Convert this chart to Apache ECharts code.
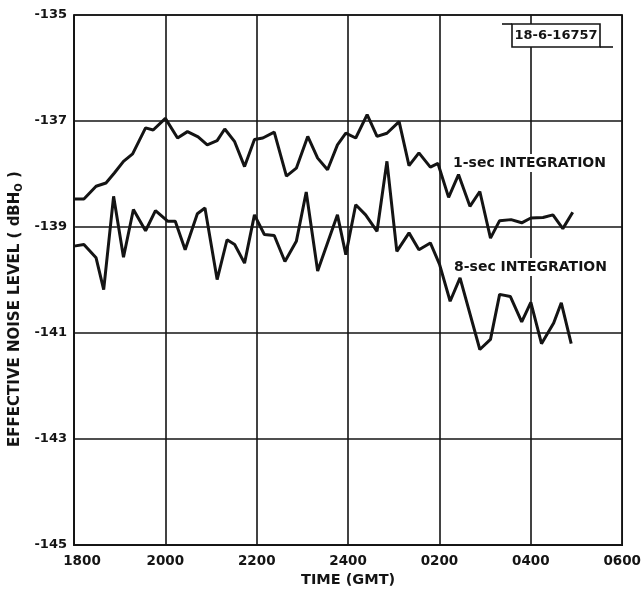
<!DOCTYPE html>
<html>
<head>
<meta charset="utf-8">
<script src="https://cdn.jsdelivr.net/npm/echarts@6/dist/echarts.min.js"></script>
<style>
html,body{margin:0;padding:0;background:#fff;}
#c{width:644px;height:593px;}
</style>
</head>
<body>
<div id="c"></div>
<script>
// Time in minutes after 1800 GMT
const oneSecTime = [0,13,29,42,53,65,77,94,104,120,136,149,163,175,188,198,211,224,237,248,263,279,292,307,320,333,346,357,370,385,398,411,427,440,453,468,478,492,505,520,533,547,559,574,588,600,616,629,642,655];
const oneSecLevel = [-138.47,-138.47,-138.23,-138.17,-137.98,-137.76,-137.62,-137.13,-137.17,-136.95,-137.32,-137.20,-137.30,-137.45,-137.37,-137.15,-137.39,-137.86,-137.35,-137.32,-137.21,-138.04,-137.89,-137.29,-137.70,-137.92,-137.45,-137.23,-137.32,-136.88,-137.29,-137.23,-137.01,-137.84,-137.60,-137.87,-137.80,-138.44,-138.01,-138.61,-138.33,-139.21,-138.88,-138.86,-138.92,-138.83,-138.82,-138.77,-139.03,-138.72];
const eightSecTime = [0,13,29,39,52,65,78,94,107,123,133,146,162,172,188,201,211,224,237,250,263,277,292,305,320,346,357,370,383,398,411,424,440,453,468,480,494,507,533,547,559,573,588,600,614,630,640,653];
const eightSecLevel = [-139.36,-139.33,-139.58,-140.18,-138.42,-139.57,-138.67,-139.07,-138.69,-138.89,-138.89,-139.43,-138.75,-138.64,-139.99,-139.24,-139.33,-139.68,-138.77,-139.14,-139.16,-139.65,-139.27,-138.34,-139.83,-138.77,-139.52,-138.58,-138.77,-139.08,-137.76,-139.46,-139.11,-139.43,-139.30,-139.70,-140.40,-139.96,-141.31,-141.12,-140.27,-140.31,-140.79,-140.42,-141.20,-140.81,-140.43,-141.20];
const xTickLabels = ['1800','2000','2200','2400','0200','0400','0600'];
const yTickLabels = ['-145','-143','-141','-139','-137','-135'];

const font = 'DejaVu Sans';
const ink = '#141414';
const chart = echarts.init(document.getElementById('c'), null, {renderer:'canvas'});
const zip = (t, v) => t.map((x, i) => [x, v[i]]);

chart.setOption({
  backgroundColor: '#ffffff',
  animation: false,
  grid: {left: 74, right: 19, top: 15, bottom: 47, show: true, borderColor: ink, borderWidth: 1.6},
  xAxis: {
    type: 'value', min: 0, max: 720, interval: 120,
    name: 'TIME (GMT)', nameLocation: 'middle', nameGap: 27,
    nameTextStyle: {fontFamily: font, fontSize: 14.5, fontWeight: 'bold', color: ink},
    axisLine: {show: true, lineStyle: {color: ink, width: 1.6}},
    axisTick: {show: false},
    axisLabel: {
      fontFamily: font, fontSize: 13.5, fontWeight: 'bold', color: ink, margin: 9,
      formatter: v => { const i = Math.round(v / 120); return i === 0 ? '{a|' + xTickLabels[i] + '}' : xTickLabels[i]; },
      rich: {a: {fontFamily: font, fontSize: 13.5, fontWeight: 'bold', color: ink, padding: [0, 0, 0, 16]}}
    },
    splitLine: {show: true, lineStyle: {color: ink, width: 1.6}}
  },
  yAxis: {
    type: 'value', min: -145, max: -135, interval: 2,
    axisLine: {show: true, lineStyle: {color: ink, width: 1.6}},
    axisTick: {show: false},
    axisLabel: {
      fontFamily: font, fontSize: 13, fontWeight: 'bold', color: ink, margin: 7,
      formatter: v => yTickLabels[Math.round((v + 145) / 2)]
    },
    splitLine: {show: true, lineStyle: {color: ink, width: 1.6}}
  },
  series: [
    {type: 'line', name: '1-sec', data: zip(oneSecTime, oneSecLevel), showSymbol: false, symbol: 'none',
     lineStyle: {color: ink, width: 3}, z: 3},
    {type: 'line', name: '8-sec', data: zip(eightSecTime, eightSecLevel), showSymbol: false, symbol: 'none',
     lineStyle: {color: ink, width: 3}, z: 3}
  ],
  graphic: [
    {type: 'text', x: 15, y: 309, rotation: Math.PI / 2,
     style: {text: 'EFFECTIVE NOISE LEVEL ( dBH{s|O} )', fontFamily: font, fontSize: 15, fontWeight: 'bold', fill: ink,
             align: 'center', verticalAlign: 'middle',
             rich: {s: {fontFamily: font, fontSize: 10, fontWeight: 'bold', fill: ink, padding: [9, 0, 0, 0]}}}},
    {type: 'text', x: 451, y: 163,
     style: {text: '1-sec INTEGRATION', fontFamily: font, fontSize: 14, fontWeight: 'bold', fill: ink,
             align: 'left', verticalAlign: 'middle', backgroundColor: '#fff', padding: [2, 2]}, z: 10},
    {type: 'text', x: 452, y: 267,
     style: {text: '8-sec INTEGRATION', fontFamily: font, fontSize: 14, fontWeight: 'bold', fill: ink,
             align: 'left', verticalAlign: 'middle', backgroundColor: '#fff', padding: [2, 2]}, z: 10},
    {type: 'rect', shape: {x: 512, y: 24, width: 88, height: 23},
     style: {fill: '#fff', stroke: ink, lineWidth: 1.6}, z: 10},
    {type: 'line', shape: {x1: 502, y1: 24, x2: 512, y2: 24}, style: {stroke: ink, lineWidth: 1.6}, z: 10},
    {type: 'line', shape: {x1: 600, y1: 47, x2: 613, y2: 47}, style: {stroke: ink, lineWidth: 1.6}, z: 10},
    {type: 'text', x: 556, y: 36,
     style: {text: '18-6-16757', fontFamily: font, fontSize: 13, fontWeight: 'bold', fill: ink, align: 'center', verticalAlign: 'middle'}, z: 11}
  ]
});
</script>
</body>
</html>
